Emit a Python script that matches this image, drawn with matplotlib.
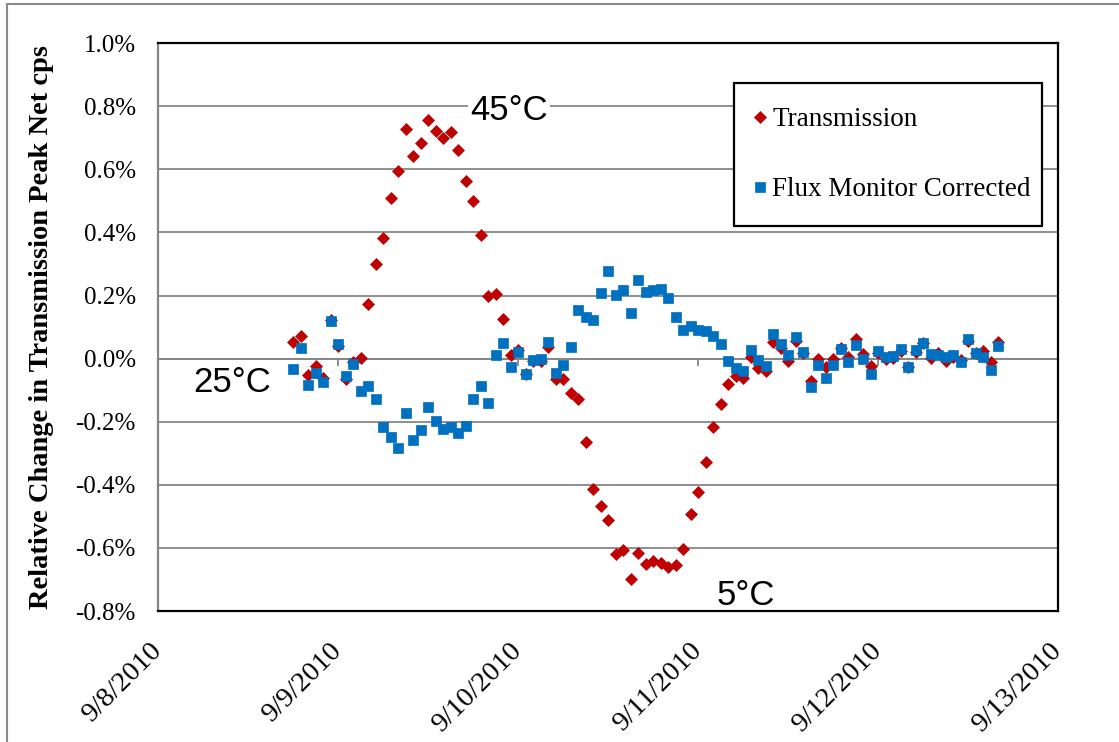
import matplotlib
matplotlib.use("Agg")
import matplotlib.pyplot as plt
import matplotlib.dates as mdates
from matplotlib.patches import Rectangle
from matplotlib.ticker import FuncFormatter, MultipleLocator
import pandas as pd
from datetime import datetime

# ---------------- data ----------------
start_time = "2010-09-08 18:00"   # hourly readings
n_points = 95

transmission = [
    0.052, 0.072, -0.053, -0.023, -0.060, 0.123, 0.040, -0.065, -0.010, 0.001,
    0.174, 0.301, 0.384, 0.508, 0.596, 0.729, 0.643, 0.683, 0.757, 0.723,
    0.700, 0.718, 0.660, 0.564, 0.500, 0.391, 0.198, 0.204, 0.125, 0.010,
    0.026, -0.049, -0.009, -0.009, 0.036, -0.063, -0.065, -0.110, -0.128, -0.263,
    -0.412, -0.467, -0.512, -0.619, -0.606, -0.699, -0.617, -0.651, -0.640, -0.647,
    -0.661, -0.653, -0.603, -0.491, -0.423, -0.327, -0.218, -0.144, -0.080, -0.056,
    -0.062, 0.004, -0.030, -0.038, 0.054, 0.033, -0.006, 0.057, 0.017, -0.070,
    -0.001, -0.027, -0.001, 0.035, 0.004, 0.061, 0.015, -0.023, 0.019, -0.002,
    0.003, 0.025, -0.027, 0.022, 0.049, 0.003, 0.017, -0.006, 0.006, -0.004,
    0.056, 0.017, 0.024, -0.010, 0.054,
]

flux_corrected = [
    -0.032, 0.034, -0.084, -0.044, -0.074, 0.119, 0.048, -0.056, -0.018, -0.102,
    -0.087, -0.128, -0.217, -0.248, -0.283, -0.171, -0.257, -0.225, -0.152, -0.197,
    -0.222, -0.216, -0.235, -0.212, -0.128, -0.086, -0.141, 0.011, 0.050, -0.026,
    0.020, -0.049, -0.004, -0.001, 0.052, -0.046, -0.021, 0.036, 0.153, 0.133,
    0.124, 0.208, 0.277, 0.203, 0.219, 0.145, 0.248, 0.210, 0.217, 0.222,
    0.192, 0.133, 0.091, 0.104, 0.092, 0.089, 0.071, 0.048, -0.006, -0.030,
    -0.040, 0.028, -0.004, -0.023, 0.078, 0.047, 0.013, 0.070, 0.021, -0.091,
    -0.021, -0.062, -0.021, 0.030, -0.010, 0.042, -0.002, -0.048, 0.023, 0.004,
    0.009, 0.031, -0.027, 0.028, 0.049, 0.015, 0.013, 0.004, 0.010, -0.010,
    0.063, 0.017, 0.006, -0.036, 0.040,
]

series_names = ["Transmission", "Flux Monitor Corrected"]
y_label = "Relative Change in Transmission Peak Net cps"
annotation_texts = ["45°C", "5°C", "25°C"]
annotation_x = [datetime(2010, 9, 9, 22, 50), datetime(2010, 9, 11, 6, 25),
                datetime(2010, 9, 8, 9, 50)]
annotation_y = [0.788, -0.752, -0.077]
annotation_bg = [True, False, True]
x_min, x_max = datetime(2010, 9, 8), datetime(2010, 9, 13)
y_min, y_max, y_step = -0.8, 1.0, 0.2

times = pd.date_range(start_time, periods=n_points, freq="h")

# ---------------- style ----------------
RED = "#C00000"
BLUE = "#0070C0"
GRID = "#868686"
SERIF = ["Liberation Serif", "DejaVu Serif"]
SANS = ["Liberation Sans", "DejaVu Sans"]

W, H = 1119, 742
fig = plt.figure(figsize=(W / 100, H / 100), dpi=100)
ax = fig.add_axes([158 / W, 1 - 611 / H, 900 / W, 567.8 / H])

ax.plot(times, transmission, ls="none", marker="D", ms=5.9, color=RED,
        mec=RED, mew=0.5, label=series_names[0], zorder=3)
ax.plot(times, flux_corrected, ls="none", marker="s", ms=6.5, color=BLUE,
        mec=BLUE, mew=0.5, label=series_names[1], zorder=4)

ax.set_xlim(x_min, x_max)
ax.set_ylim(y_min, y_max)
ax.yaxis.set_major_locator(MultipleLocator(y_step))
ax.yaxis.set_major_formatter(FuncFormatter(lambda v, p: f"{v:.1f}%"))
ax.xaxis.set_major_locator(mdates.DayLocator())
def _date_fmt(v, p):
    d = mdates.num2date(v)
    return f"{d.month}/{d.day}/{d.year}"
ax.xaxis.set_major_formatter(FuncFormatter(_date_fmt))

ax.grid(axis="y", color=GRID, lw=1.3, zorder=0)
ax.set_axisbelow(True)

for s in ["top", "right", "bottom"]:
    ax.spines[s].set_color("black")
    ax.spines[s].set_linewidth(1.6)
ax.spines["left"].set_color(GRID)
ax.spines["left"].set_linewidth(1.6)

ax.tick_params(axis="y", length=0, pad=16, labelsize=18)
ax.tick_params(axis="x", length=0, pad=26, labelsize=20.5)
for lab in ax.get_yticklabels():
    lab.set_fontfamily(SERIF)
for lab in ax.get_xticklabels():
    lab.set_fontfamily(SERIF)
    lab.set_rotation(45)
    lab.set_ha("right")
    lab.set_va("center")
    lab.set_rotation_mode("anchor")

# horizontal axis crossing at zero with small day ticks
zero_frac = (0 - y_min) / (y_max - y_min)
sec = ax.secondary_xaxis(zero_frac)
sec.xaxis.set_major_locator(mdates.DayLocator())
sec.tick_params(axis="x", direction="out", length=5, width=1.3, color=GRID,
                labelbottom=False, labeltop=False)
sec.spines["bottom"].set_color(GRID)
sec.spines["bottom"].set_linewidth(1.3)
sec.spines["top"].set_visible(False)

ax.set_ylabel(y_label, fontsize=20.5, fontweight="bold", family=SERIF,
              va="center")
ax.yaxis.set_label_coords(-0.129, 0.5)

for txt, xd, yv, bg in zip(annotation_texts, annotation_x, annotation_y, annotation_bg):
    kw = dict(bbox=dict(facecolor="white", edgecolor="none", pad=1.5)) if bg else {}
    ax.text(xd, yv, txt, fontsize=25, family=SANS, ha="center", va="center",
            zorder=5, **kw)

leg = ax.legend(loc="upper left", bbox_to_anchor=(0.64, 0.68, 0.342, 0.25),
                mode="expand", borderaxespad=0, fancybox=False, framealpha=1,
                edgecolor="black", prop={"family": SERIF, "size": 19.5},
                borderpad=0.9, labelspacing=1.65, handlelength=0.1,
                handletextpad=0.42)
leg.get_frame().set_linewidth(1.6)
leg.set_zorder(6)

# outer chart frame
fig.add_artist(Rectangle((7 / W, -0.1), 2, 1.1 - 4 / H, transform=fig.transFigure,
                         fill=False, edgecolor="#8a8a8a", lw=1.5))

fig.savefig("out.png", dpi=100)
